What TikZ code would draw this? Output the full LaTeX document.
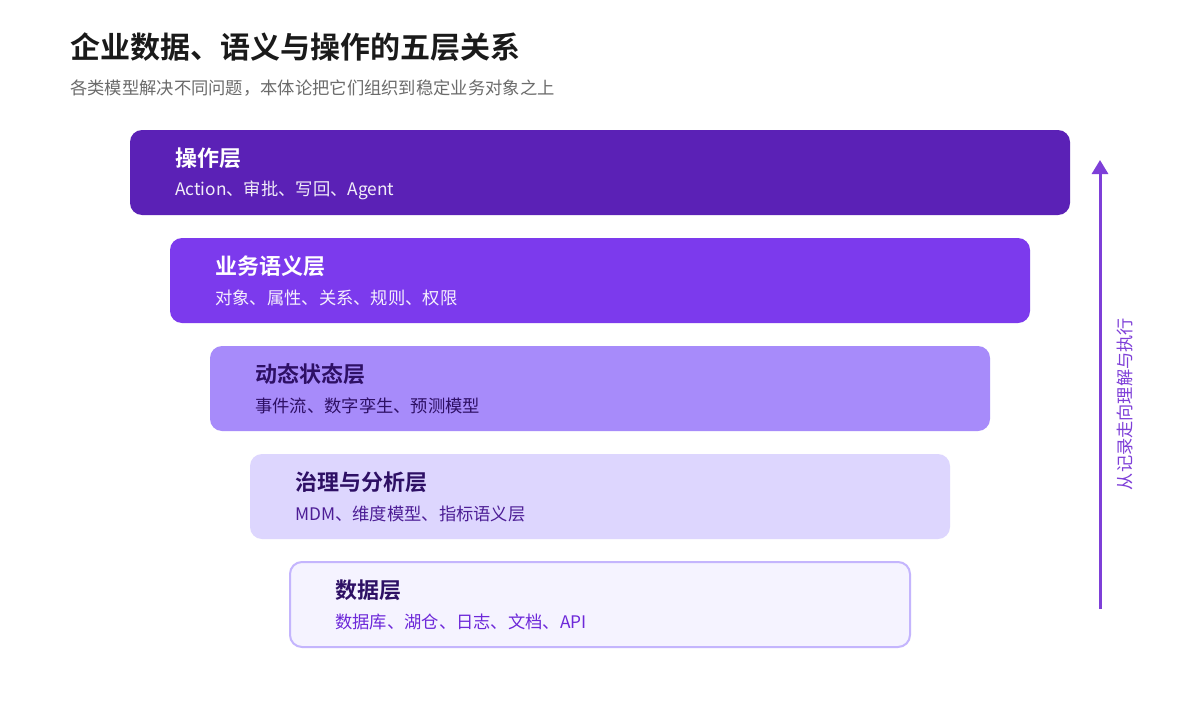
\documentclass[tikz,border=0pt]{standalone}
\usepackage{fontspec}
\setmainfont{Noto Sans CJK SC}[BoldFont={Noto Sans CJK SC Bold}]
\usetikzlibrary{arrows.meta}
\definecolor{c1}{HTML}{5B21B6}
\definecolor{c2}{HTML}{7C3AED}
\definecolor{c3}{HTML}{A78BFA}
\definecolor{c4}{HTML}{DDD6FE}
\definecolor{c5}{HTML}{F5F3FF}
\definecolor{c5b}{HTML}{C4B5FD}
\definecolor{dark}{HTML}{2E1065}
\definecolor{mid}{HTML}{4C1D95}
\definecolor{sub5}{HTML}{6D28D9}
\definecolor{titlec}{HTML}{1A1A1A}
\definecolor{grayc}{HTML}{6B6B6B}
\definecolor{arrowc}{HTML}{7E3FD8}
\begin{document}
\begin{tikzpicture}[x=1pt,y=-1pt,
  layer/.style={rounded corners=12pt, draw=none},
  ttl/.style={anchor=west, font=\fontsize{22}{26}\selectfont\bfseries, inner sep=0pt},
  sbt/.style={anchor=west, font=\fontsize{17.3}{20}\selectfont, inner sep=0pt}]
\useasboundingbox (0,0) rectangle (1200,720);
\fill[white] (0,0) rectangle (1200,720);
\node[anchor=west, inner sep=0pt, text=titlec, font=\fontsize{30}{34}\selectfont\bfseries] (title) at (70,47) {企业数据、语义与操作的五层关系};
\node[anchor=west, inner sep=0pt, text=grayc, font=\fontsize{17.3}{20}\selectfont] (subtitle) at (70,88) {各类模型解决不同问题，本体论把它们组织到稳定业务对象之上};
% layer 1
\fill[layer, c1] (130,130) rectangle (1070,215);
\node[ttl, text=white] (t1) at (175,158) {操作层};
\node[sbt, text=white!92!c1] (s1) at (175,190) {Action、审批、写回、Agent};
% layer 2
\fill[layer, c2] (170,238) rectangle (1030,323);
\node[ttl, text=white] (t2) at (215,266) {业务语义层};
\node[sbt, text=white!92!c2] (s2) at (215,298) {对象、属性、关系、规则、权限};
% layer 3
\fill[layer, c3] (210,346) rectangle (990,431);
\node[ttl, text=dark] (t3) at (255,374) {动态状态层};
\node[sbt, text=dark] (s3) at (255,406) {事件流、数字孪生、预测模型};
% layer 4
\fill[layer, c4] (250,454) rectangle (950,539);
\node[ttl, text=dark] (t4) at (295,482) {治理与分析层};
\node[sbt, text=mid] (s4) at (295,514) {MDM、维度模型、指标语义层};
% layer 5
\filldraw[layer, fill=c5, draw=c5b, line width=2pt] (290,562) rectangle (910,647);
\node[ttl, text=dark] (t5) at (335,590) {数据层};
\node[sbt, text=sub5] (s5) at (335,622) {数据库、湖仓、日志、文档、API};
% arrow
\coordinate (abot) at (1100,609);
\coordinate (atop) at (1100,160);
\draw[arrowc, line width=3pt, -{Triangle[length=14pt,width=16pt]}] (abot) -- (atop);
\node[rotate=90, inner sep=0pt, text=arrowc, font=\fontsize{17.2}{20}\selectfont] (alabel) at (1125,404) {从记录走向理解与执行};
\end{tikzpicture}
\end{document}
